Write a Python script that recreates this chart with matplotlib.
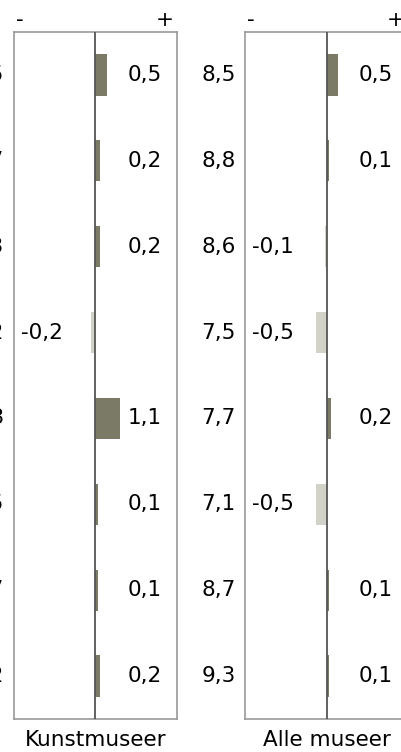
import matplotlib.pyplot as plt

# data: mean score (cut off on left edge for first panel) and change per row
kunst_mean = ["9,5", "8,7", "8,3", "7,2", "7,3", "6,5", "8,7", "9,2"]
kunst_diff = [0.5, 0.2, 0.2, -0.2, 1.1, 0.1, 0.1, 0.2]
alle_mean = ["8,5", "8,8", "8,6", "7,5", "7,7", "7,1", "8,7", "9,3"]
alle_diff = [0.5, 0.1, -0.1, -0.5, 0.2, -0.5, 0.1, 0.1]
panel_titles = ["Kunstmuseer", "Alle museer"]

W, H = 402, 752
POS = "#7a7a66"
NEG = "#d2d2c8"
FS = 15.5
XL = 3.7

fig = plt.figure(figsize=(W / 100, H / 100), dpi=100)


def fmt(v):
    return f"{v:.1f}".replace(".", ",")


def panel(left_px, means, diffs, title):
    ax = fig.add_axes([left_px / W, (H - 719) / H, 163 / W, 687 / H])
    rows = list(range(len(diffs)))
    colors = [POS if d >= 0 else NEG for d in diffs]
    ax.barh(rows, diffs, height=0.48, color=colors, zorder=2)
    ax.set_xlim(-XL, XL)
    ax.set_ylim(len(diffs) - 0.5, -0.5)
    ax.axvline(0, color="#555555", lw=1.3, zorder=3)
    for s in ax.spines.values():
        s.set_color("#999999")
        s.set_linewidth(1.2)
    ax.set_xticks([])
    ax.set_yticks([])
    for r, d, m in zip(rows, diffs, means):
        if d >= 0:
            ax.text(1.45, r, fmt(d), ha="left", va="center", fontsize=FS)
        else:
            ax.text(-XL + 0.32, r, fmt(d), ha="left", va="center", fontsize=FS)
        ax.text(-XL - 0.45, r, m, ha="right", va="center", fontsize=FS,
                clip_on=False)
    ax.text(-XL + 0.09, -0.64, "-", ha="left", va="center", fontsize=FS,
            clip_on=False)
    ax.text(XL - 0.14, -0.64, "+", ha="right", va="center", fontsize=FS,
            clip_on=False)
    ax.text(0, 7.75, title, ha="center", va="center", fontsize=FS,
            clip_on=False)
    return ax


panel(14, kunst_mean, kunst_diff, panel_titles[0])
panel(245.3, alle_mean, alle_diff, panel_titles[1])

fig.savefig("out.png", dpi=100)
